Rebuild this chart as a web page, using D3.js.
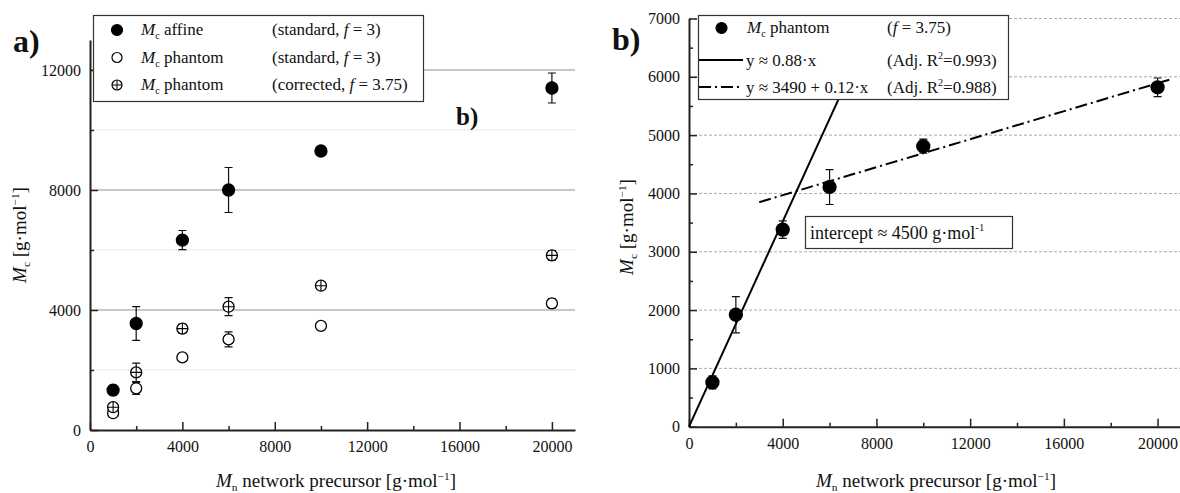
<!DOCTYPE html>
<html>
<head>
<meta charset="utf-8">
<script src="https://cdn.jsdelivr.net/npm/d3@7"></script>
<style>
body { margin: 0; background: #fff; }
svg text { font-family: "Liberation Serif", "Times New Roman", serif !important; fill: #111; }
</style>
</head>
<body>
<svg id="chart" width="1180" height="493"></svg>
<script>
// precursor molar mass
var mnValues = [1000, 2000, 4000, 6000, 10000, 20000];

// panel a series
var affine = [1330, 3550, 6330, 8000, 9300, 11400];
var affineErr = [160, 560, 320, 750, 140, 500];
var phantomStd = [560, 1390, 2420, 3020, 3470, 4220];
var phantomStdErr = [90, 200, 100, 250, 80, 150];
var phantomCorr = [760, 1920, 3380, 4110, 4810, 5820];
var phantomCorrErr = [110, 310, 150, 300, 120, 160];

// fit lines in panel b
var fitLinear = { slope: 0.88, intercept: 0, x0: 0, x1: 7900 };
var fitHigh = { slope: 0.12, intercept: 3490, x0: 3000, x1: 20500 };

var xTicks = [0, 4000, 8000, 12000, 16000, 20000];
var xMinor = [2000, 6000, 10000, 14000, 18000];
var yTicksA = [0, 4000, 8000, 12000];
var yMinorA = [2000, 6000, 10000];
var yTicksB = [0, 1000, 2000, 3000, 4000, 5000, 6000, 7000];
var yMinorB = [500, 1500, 2500, 3500, 4500, 5500, 6500];

var svg = d3.select("#chart");

// writes M_c style text with sub and superscripts
var mcText = function(sel, sub)
{
    sel.append("tspan").attr("font-style", "italic").text("M");
    sel.append("tspan").attr("font-size", "0.6em").attr("dy", 4).text(sub);
    return sel.append("tspan").attr("dy", -4);
}

var unitText = function(sel, before)
{
    sel.append("tspan").text(before + "[g\u00b7mol");
    sel.append("tspan").attr("font-size", "0.6em").attr("dy", -7).text("\u22121");
    sel.append("tspan").attr("dy", 7).text("]");
}

var drawAxes = function(g, x, y, yTicks, yMinor, gridStyle)
{
    var x0 = x.range()[0], x1 = x.range()[1];
    var y0 = y.range()[0], y1 = y.range()[1];

    // grid
    if (gridStyle == "a")
    {
        g.selectAll(".gmaj").data(yTicks.slice(1)).enter().append("line")
            .attr("x1", x0).attr("x2", x1)
            .attr("y1", function(d){return y(d);}).attr("y2", function(d){return y(d);})
            .style("stroke", "#b4b4b4").style("stroke-width", 1.5);
        g.selectAll(".gmin").data(yMinor).enter().append("line")
            .attr("x1", x0).attr("x2", x1)
            .attr("y1", function(d){return y(d);}).attr("y2", function(d){return y(d);})
            .style("stroke", "#cfcfcf").style("stroke-width", 1).style("stroke-dasharray", "1,1");
    }
    else
    {
        g.selectAll(".gmaj").data(yTicks.slice(1)).enter().append("line")
            .attr("x1", x0).attr("x2", x1)
            .attr("y1", function(d){return y(d);}).attr("y2", function(d){return y(d);})
            .style("stroke", "#aaaaaa").style("stroke-width", 1).style("stroke-dasharray", "3,2");
    }

    g.append("g").attr("transform", "translate(0," + y0 + ")")
        .call(d3.axisBottom(x).tickValues(xTicks).tickSizeInner(-8).tickSizeOuter(0).tickPadding(11).tickFormat(d3.format("d")));
    g.append("g").attr("transform", "translate(0," + y0 + ")")
        .call(d3.axisBottom(x).tickValues(xMinor).tickSizeInner(-4).tickSizeOuter(0).tickFormat(""))
        .select(".domain").remove();
    g.append("g").attr("transform", "translate(" + x0 + ",0)")
        .call(d3.axisLeft(y).tickValues(yTicks).tickSizeInner(-8).tickSizeOuter(0).tickPadding(9).tickFormat(d3.format("d")));
    g.append("g").attr("transform", "translate(" + x0 + ",0)")
        .call(d3.axisLeft(y).tickValues(yMinor).tickSizeInner(-4).tickSizeOuter(0).tickFormat(""))
        .select(".domain").remove();

    g.selectAll(".domain").style("stroke", "#222").style("stroke-width", 2);
    g.selectAll(".tick line").style("stroke", "#222").style("stroke-width", 1.5);
    g.selectAll(".tick text").style("font-size", "16px");
}

var drawPoints = function(g, x, y, vals, errs, kind, r)
{
    var pts = mnValues.map(function(d, i){ return {x: d, y: vals[i], e: errs[i]}; });
    var grp = g.append("g");
    grp.selectAll(".err").data(pts).enter().append("path")
        .attr("d", function(d)
        {
            var px = x(d.x), t = y(d.y + d.e), b = y(d.y - d.e);
            return "M" + (px - 4) + "," + t + "H" + (px + 4) + "M" + px + "," + t + "V" + b + "M" + (px - 4) + "," + b + "H" + (px + 4);
        })
        .style("stroke", "#111").style("stroke-width", 1.2).style("fill", "none");
    var m = grp.selectAll(".pt").data(pts).enter().append("g")
        .attr("transform", function(d){ return "translate(" + x(d.x) + "," + y(d.y) + ")"; });
    m.append("circle").attr("r", r)
        .style("fill", kind == "filled" ? "#000" : "#fff")
        .style("stroke", "#000").style("stroke-width", 1.3);
    if (kind == "crossed")
    {
        m.append("path").attr("d", "M" + (-r) + ",0H" + r + "M0," + (-r) + "V" + r)
            .style("stroke", "#000").style("stroke-width", 1.1);
    }
}

var legendSymbol = function(g, cx, cy, kind, r)
{
    g.append("circle").attr("cx", cx).attr("cy", cy).attr("r", r)
        .style("fill", kind == "filled" ? "#000" : "#fff")
        .style("stroke", "#000").style("stroke-width", 1.2);
    if (kind == "crossed")
    {
        g.append("path").attr("d", "M" + (cx - r) + "," + cy + "H" + (cx + r) + "M" + cx + "," + (cy - r) + "V" + (cy + r))
            .style("stroke", "#000").style("stroke-width", 1);
    }
}

var fText = function(sel, before, after)
{
    sel.append("tspan").text(before);
    sel.append("tspan").attr("font-style", "italic").text("f");
    sel.append("tspan").text(after);
}

// ---------------- panel a ----------------
var xa = d3.scaleLinear().domain([0, 21000]).range([90, 575]);
var ya = d3.scaleLinear().domain([0, 13000]).range([430, 40]);
var ga = svg.append("g");
drawAxes(ga, xa, ya, yTicksA, yMinorA, "a");

drawPoints(ga, xa, ya, phantomStd, phantomStdErr, "open", 5.5);
drawPoints(ga, xa, ya, phantomCorr, phantomCorrErr, "crossed", 5.5);
drawPoints(ga, xa, ya, affine, affineErr, "filled", 6);

// legend a
ga.append("rect").attr("x", 93.5).attr("y", 15.5).attr("width", 330).attr("height", 86)
    .style("fill", "#fff").style("stroke", "#333").style("stroke-width", 1.2);
var legA = [
    {kind: "filled", name: " affine", extra: ["(standard, ", " = 3)"]},
    {kind: "open", name: " phantom", extra: ["(standard, ", " = 3)"]},
    {kind: "crossed", name: " phantom", extra: ["(corrected, ", " = 3.75)"]}
];
legA.forEach(function(d, i)
{
    var cy = 30 + i * 27.5;
    legendSymbol(ga, 117, cy, d.kind, d.kind == "filled" ? 5.5 : 5);
    var t = ga.append("text").attr("x", 141).attr("y", cy + 5).style("font-size", "17px");
    mcText(t, "c").text(d.name);
    var t2 = ga.append("text").attr("x", 272).attr("y", cy + 5).style("font-size", "17px");
    fText(t2, d.extra[0], d.extra[1]);
});

svg.append("text").attr("x", 13).attr("y", 52).style("font-size", "32px").style("font-weight", "bold").text("a)");
svg.append("text").attr("x", 456).attr("y", 125).style("font-size", "25px").style("font-weight", "bold").text("b)");

var yla = svg.append("text").attr("transform", "translate(26,235) rotate(-90)")
    .attr("text-anchor", "middle").style("font-size", "19px");
unitText(mcText(yla, "c"), " ");
var yla2 = svg.append("text").attr("x", 336).attr("y", 487).attr("text-anchor", "middle").style("font-size", "19px");
unitText(mcText(yla2, "n"), "  network precursor ");

// ---------------- panel b ----------------
var xb = d3.scaleLinear().domain([0, 21000]).range([689, 1181]);
var yb = d3.scaleLinear().domain([0, 7000]).range([426.7, 18.5]);
var gb = svg.append("g");
drawAxes(gb, xb, yb, yTicksB, yMinorB, "b");

var line = d3.line().x(function(d){return xb(d[0]);}).y(function(d){return yb(d[1]);});
gb.append("path")
    .attr("d", line([[fitLinear.x0, fitLinear.intercept + fitLinear.slope * fitLinear.x0], [fitLinear.x1, fitLinear.intercept + fitLinear.slope * fitLinear.x1]]))
    .style("stroke", "#000").style("stroke-width", 2).style("fill", "none");
gb.append("path")
    .attr("d", line([[fitHigh.x0, fitHigh.intercept + fitHigh.slope * fitHigh.x0], [fitHigh.x1, fitHigh.intercept + fitHigh.slope * fitHigh.x1]]))
    .style("stroke", "#000").style("stroke-width", 2).style("fill", "none").style("stroke-dasharray", "12,4,2,4");

drawPoints(gb, xb, yb, phantomCorr, phantomCorrErr, "filled", 6.5);

// legend b
gb.append("rect").attr("x", 698.5).attr("y", 15.5).attr("width", 310).attr("height", 84)
    .style("fill", "#fff").style("stroke", "#333").style("stroke-width", 1.2);
legendSymbol(gb, 721.5, 28, "filled", 5.5);
var tb1 = gb.append("text").attr("x", 747).attr("y", 33).style("font-size", "17px");
mcText(tb1, "c").text(" phantom");
fText(gb.append("text").attr("x", 887).attr("y", 33).style("font-size", "17px"), "(", " = 3.75)");

gb.append("line").attr("x1", 699).attr("x2", 743).attr("y1", 60).attr("y2", 60)
    .style("stroke", "#000").style("stroke-width", 2);
gb.append("text").attr("x", 746).attr("y", 66).style("font-size", "17px").text("y \u2248 0.88\u00b7x");
gb.append("line").attr("x1", 699).attr("x2", 743).attr("y1", 87).attr("y2", 87)
    .style("stroke", "#000").style("stroke-width", 2).style("stroke-dasharray", "12,4,2,4");
gb.append("text").attr("x", 746).attr("y", 93).style("font-size", "17px").text("y \u2248 3490 + 0.12\u00b7x");

var r2 = ["0.993", "0.988"];
r2.forEach(function(v, i)
{
    var t = gb.append("text").attr("x", 887).attr("y", 66 + i * 27).style("font-size", "17px");
    t.append("tspan").text("(Adj. R");
    t.append("tspan").attr("font-size", "0.6em").attr("dy", -7).text("2");
    t.append("tspan").attr("dy", 7).text("=" + v + ")");
});

// intercept note
gb.append("rect").attr("x", 805.5).attr("y", 216.5).attr("width", 207).attr("height", 32)
    .style("fill", "#fff").style("stroke", "#333").style("stroke-width", 1.2);
var ti = gb.append("text").attr("x", 810).attr("y", 239).style("font-size", "18px");
ti.append("tspan").text("intercept \u2248 4500 g\u00b7mol");
ti.append("tspan").attr("font-size", "0.6em").attr("dy", -8).text("-1");

svg.append("text").attr("x", 612).attr("y", 50).style("font-size", "32px").style("font-weight", "bold").text("b)");

var ylb = svg.append("text").attr("transform", "translate(633,227) rotate(-90)")
    .attr("text-anchor", "middle").style("font-size", "19px");
unitText(mcText(ylb, "c"), " ");
var xlb = svg.append("text").attr("x", 936).attr("y", 487).attr("text-anchor", "middle").style("font-size", "19px");
unitText(mcText(xlb, "n"), "  network precursor ");
</script>
</body>
</html>
